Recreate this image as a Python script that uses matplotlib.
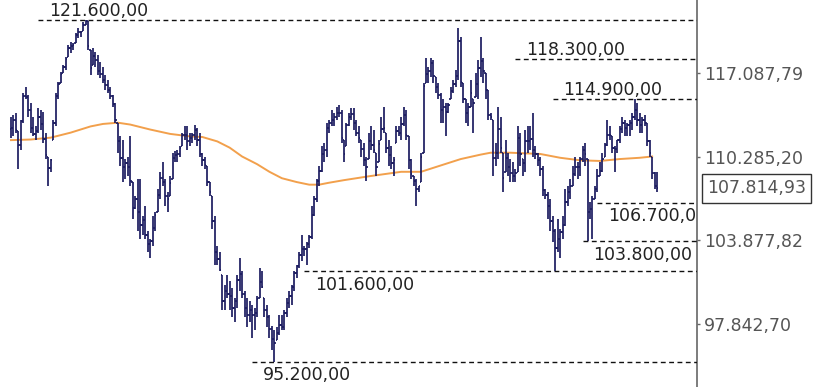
import numpy as np
import matplotlib
matplotlib.use("Agg")
import matplotlib.pyplot as plt
from matplotlib.collections import LineCollection
from matplotlib.ticker import FixedLocator, FuncFormatter, NullLocator

# daily bars, values in thousands
highs = [
    113.5, 113.65, 113.8, 112.3, 113.25, 115.45, 115.95, 115.3, 114.6, 113.5,
    112.7, 114.2, 114.05, 113.9, 112.2, 110.3, 110.1, 113.25, 115.45, 116.35,
    117.2, 117.8, 118.45, 119.5, 119.7, 119.6, 120.5, 120.9, 120.7, 121.4,
    121.6, 121.55, 119.05, 119.2, 118.9, 118.6, 118.0, 117.6, 116.9, 116.5,
    115.95, 115.3, 114.6, 113.0, 111.9, 111.65, 110.1, 110.3, 111.9, 108.3,
    107.25, 108.55, 108.55, 105.7, 106.45, 104.55, 104.0, 105.7, 106.0, 107.75,
    109.1, 109.85, 108.55, 107.55, 108.75, 110.6, 110.7, 110.85, 111.1, 112.2,
    112.7, 112.7, 112.2, 112.2, 112.85, 112.6, 112.2, 110.6, 110.3, 109.55,
    108.3, 107.25, 105.7, 103.45, 103.05, 101.35, 100.6, 101.35, 100.9, 100.4,
    99.7, 101.35, 102.55, 101.6, 100.2, 99.7, 99.5, 99.2, 99.0, 99.85,
    101.85, 101.6, 99.7, 99.2, 98.45, 97.7, 97.4, 97.6, 98.45, 98.45,
    98.8, 99.7, 100.2, 100.6, 101.6, 102.05, 103.05, 104.25, 103.45, 103.75,
    104.25, 106.45, 107.25, 108.55, 109.55, 111.1, 111.4, 113.0, 113.25, 114.05,
    113.8, 114.3, 114.45, 114.05, 111.65, 113.0, 113.8, 114.2, 114.2, 113.25,
    112.7, 111.65, 111.4, 110.3, 112.2, 112.7, 112.45, 110.6, 111.65, 113.5,
    114.3, 112.2, 111.65, 111.1, 110.3, 112.7, 112.7, 113.5, 114.3, 114.05,
    111.9, 110.1, 108.75, 108.55, 108.0, 110.6, 116.25, 118.35, 117.6, 118.35,
    118.2, 116.75, 116.25, 115.45, 114.9, 114.6, 114.6, 115.95, 116.5, 117.35,
    120.9, 120.15, 116.25, 114.9, 114.6, 116.5, 114.9, 117.1, 118.2, 120.15,
    118.35, 117.1, 115.7, 113.8, 113.25, 111.4, 114.3, 113.5, 110.6, 111.65,
    110.6, 110.1, 109.85, 109.3, 112.7, 112.2, 110.1, 112.45, 112.7, 112.7,
    113.8, 111.1, 110.6, 110.3, 109.55, 107.75, 107.55, 107.0, 105.7, 104.75,
    105.5, 104.75, 105.7, 107.75, 108.0, 108.55, 109.55, 110.3, 109.85, 110.3,
    111.1, 111.4, 110.1, 106.8, 107.25, 108.0, 109.3, 109.85, 110.6, 111.4,
    113.25, 112.7, 111.9, 111.1, 111.65, 112.7, 113.5, 113.25, 113.0, 113.25,
    113.8, 114.9, 114.6, 113.8, 113.5, 113.65, 113.0, 111.65, 110.3, 109.1,
    109.1,
]
lows = [
    111.8, 111.9, 112.2, 109.3, 110.85, 113.0, 114.9, 113.5, 112.2, 111.9,
    111.65, 112.2, 112.45, 111.4, 110.1, 108.0, 109.1, 111.65, 112.7, 114.9,
    116.25, 117.1, 117.35, 118.45, 118.8, 119.05, 119.6, 120.1, 120.15, 120.7,
    121.2, 119.05, 116.9, 117.8, 117.6, 116.9, 116.65, 116.25, 115.7, 115.45,
    114.9, 114.3, 113.0, 110.6, 109.55, 108.3, 108.55, 108.75, 108.0, 105.5,
    106.25, 104.55, 104.0, 104.25, 104.0, 103.05, 102.55, 103.45, 104.55, 106.0,
    107.0, 108.0, 106.45, 106.0, 107.25, 108.55, 109.85, 109.85, 110.3, 111.1,
    111.65, 110.85, 111.1, 111.4, 111.65, 111.1, 110.3, 109.55, 109.3, 108.0,
    107.25, 104.75, 102.05, 102.05, 101.6, 98.8, 98.8, 99.7, 98.8, 98.3,
    98.0, 99.0, 100.2, 99.7, 98.3, 97.6, 98.0, 96.9, 97.4, 98.3,
    99.7, 100.4, 98.3, 97.6, 96.9, 96.05, 95.2, 96.7, 97.1, 97.4,
    97.4, 98.3, 99.0, 99.2, 100.2, 101.15, 101.85, 102.35, 102.75, 102.05,
    103.3, 104.0, 105.7, 106.8, 108.0, 109.1, 109.85, 110.3, 112.2, 112.7,
    112.7, 113.25, 113.5, 111.4, 109.85, 111.1, 112.7, 113.25, 112.45, 111.9,
    111.4, 110.3, 109.55, 108.4, 110.1, 110.85, 110.6, 108.75, 109.85, 111.65,
    112.2, 110.6, 109.55, 109.3, 108.75, 111.4, 111.9, 111.65, 112.7, 111.65,
    109.3, 108.55, 108.0, 106.45, 107.55, 108.3, 110.6, 116.25, 116.25, 116.75,
    116.25, 115.45, 114.9, 113.0, 113.0, 111.9, 113.8, 114.9, 115.45, 115.95,
    116.5, 115.95, 114.6, 113.0, 112.7, 114.3, 112.2, 115.1, 114.9, 116.75,
    116.25, 114.9, 113.25, 113.25, 108.75, 109.55, 110.1, 110.6, 107.55, 109.1,
    108.75, 108.3, 108.3, 108.3, 109.1, 109.55, 108.75, 109.1, 110.6, 110.85,
    110.3, 110.1, 109.55, 108.75, 107.25, 107.0, 105.5, 104.55, 103.75, 101.6,
    103.05, 102.55, 104.0, 104.95, 106.45, 107.0, 108.0, 108.75, 108.55, 108.75,
    109.85, 109.55, 103.8, 105.5, 104.0, 107.0, 107.55, 108.75, 109.1, 110.3,
    111.1, 111.65, 110.6, 109.1, 110.6, 111.4, 112.2, 111.9, 111.9, 111.9,
    112.45, 113.25, 112.7, 112.2, 112.2, 112.7, 111.1, 110.3, 108.55, 107.75,
    107.55,
]
closes = [
    112.6, 113.2, 112.4, 111.2, 113.1, 115.2, 115.1, 114.0, 112.6, 112.1,
    112.3, 113.5, 112.9, 111.7, 110.4, 109.4, 110.0, 113.0, 115.2, 116.2,
    117.0, 117.6, 118.3, 119.2, 119.4, 119.5, 120.3, 120.6, 120.6, 121.2,
    121.5, 119.4, 117.5, 118.5, 118.2, 117.3, 117.0, 116.5, 116.1, 115.7,
    115.2, 114.5, 113.2, 111.5, 110.2, 109.5, 109.8, 109.5, 108.4, 106.3,
    107.0, 106.0, 105.0, 105.4, 104.3, 103.6, 103.8, 104.8, 105.8, 107.3,
    108.6, 108.3, 107.2, 107.0, 108.2, 110.2, 110.4, 110.5, 111.0, 112.0,
    112.0, 111.5, 111.8, 112.0, 112.4, 111.6, 110.5, 110.0, 109.6, 108.3,
    107.5, 105.3, 103.0, 102.5, 101.7, 99.5, 100.2, 100.0, 99.8, 99.0,
    99.5, 101.0, 101.4, 100.0, 99.0, 98.5, 98.8, 98.5, 98.6, 99.6,
    100.8, 100.5, 98.8, 98.3, 97.5, 96.8, 96.5, 97.2, 97.8, 97.6,
    98.6, 99.3, 99.8, 100.5, 101.5, 102.0, 102.8, 103.2, 103.2, 103.6,
    104.1, 105.8, 107.0, 108.4, 109.2, 110.5, 110.8, 112.6, 113.0, 113.2,
    113.5, 113.8, 113.8, 111.8, 110.5, 112.8, 113.5, 113.7, 113.0, 112.2,
    111.8, 110.9, 110.0, 109.5, 111.5, 111.2, 110.8, 109.5, 111.3, 112.5,
    112.6, 111.0, 110.4, 109.8, 110.0, 112.3, 112.2, 112.9, 113.6, 112.0,
    110.0, 108.9, 108.4, 107.8, 108.0, 110.3, 116.0, 117.0, 117.3, 117.9,
    116.8, 115.9, 115.3, 114.0, 114.3, 113.9, 114.4, 115.6, 116.2, 116.8,
    119.8, 116.3, 114.9, 113.8, 114.3, 115.4, 114.6, 116.2, 117.5, 118.1,
    117.3, 115.7, 113.6, 113.5, 110.2, 110.6, 112.5, 111.0, 108.6, 110.2,
    109.5, 109.0, 108.8, 109.0, 111.8, 110.5, 109.8, 111.5, 111.5, 111.7,
    110.8, 110.5, 110.0, 109.3, 107.7, 107.3, 106.5, 105.3, 104.6, 103.3,
    104.0, 104.5, 105.0, 106.8, 107.5, 108.0, 108.9, 109.5, 109.5, 110.1,
    110.8, 110.5, 106.0, 106.2, 107.0, 107.8, 108.8, 109.2, 110.1, 111.2,
    112.0, 112.0, 111.0, 110.9, 111.6, 112.5, 113.0, 112.6, 112.8, 113.0,
    113.5, 114.0, 113.2, 112.8, 113.2, 113.0, 111.5, 110.6, 109.0, 108.0,
    107.81493,
]
first_open = 112.5

# moving average, read at some bar indices
ma_idx = [0, 8, 16, 24, 32, 37, 43, 48, 56, 64, 72, 77, 83, 88, 93, 99, 104,
          109, 115, 120, 124, 128, 134, 144, 157, 165, 173, 181, 189, 193, 201,
          213, 221, 229, 237, 245, 253, 258]
ma_vals = [111.6, 111.65, 111.8, 112.2, 112.7, 112.9, 113.0, 112.85, 112.45, 112.1,
           111.9, 111.85, 111.5, 111.0, 110.3, 109.7, 109.1, 108.6, 108.3, 108.1,
           108.1, 108.25, 108.45, 108.75, 109.1, 109.1, 109.6, 110.1, 110.45, 110.6,
           110.6, 110.5, 110.2, 110.0, 109.95, 110.1, 110.2, 110.3]

levels = [121600, 118300, 114900, 106700, 103800, 101600, 95200]
level_start = [11, 203, 218, 236, 230, 118, 97]
level_above = [True, True, True, False, False, False, False]

ytick_vals = [97842.70, 103877.82, 110285.20, 117087.79]
last_price = 107814.93

BAR_C = "#1c1c60"
MA_C = "#f2a04c"
TXT_C = "#222222"
AX_C = "#666666"


def eu(v):
    s = f"{v:,.2f}"
    return s.replace(",", "X").replace(".", ",").replace("X", ".")


hi = np.array(highs) * 1000
lo = np.array(lows) * 1000
cl = np.array(closes) * 1000
cl[-1] = last_price
op = np.concatenate([[first_open * 1000], cl[:-1]])
op = np.clip(op, lo, hi)
n = len(hi)
w = 0.55

segs = []
for i in range(n):
    segs.append([(i, lo[i]), (i, hi[i])])
    segs.append([(i - w, op[i]), (i, op[i])])
    segs.append([(i, cl[i]), (i + w, cl[i])])

fig = plt.figure(figsize=(8.25, 3.87), dpi=100)
ax = fig.add_axes([0, 0, 697 / 825, 1])
ax.set_yscale("log")
ax.set_xlim(-11 / 2.485, 686 / 2.485)
ax.set_ylim(93530, 123370)

ax.plot(ma_idx, np.array(ma_vals) * 1000, color=MA_C, lw=1.4, zorder=2,
        solid_joinstyle="round")
ax.add_collection(LineCollection(segs, colors=BAR_C, linewidths=1.25, zorder=3))

for lv, st, above in zip(levels, level_start, level_above):
    ax.plot([st, 300], [lv, lv], color="#111111", lw=1.0,
            linestyle=(0, (3.5, 2.5)), zorder=4)
    dy = 6.5 if above else -9.5
    ax.annotate(eu(lv), xy=(st, lv), xytext=(7.5, dy), textcoords="offset points",
                ha="left", va="center", fontsize=12.5, color=TXT_C,
                clip_on=True, zorder=5)

for s in ["left", "top", "bottom"]:
    ax.spines[s].set_visible(False)
ax.spines["right"].set_color(AX_C)
ax.spines["right"].set_linewidth(1.2)
ax.set_xticks([])
ax.yaxis.tick_right()
ax.yaxis.set_major_locator(FixedLocator(ytick_vals))
ax.yaxis.set_minor_locator(NullLocator())
ax.yaxis.set_major_formatter(FuncFormatter(lambda v, p: eu(v)))
ax.tick_params(axis="y", which="major", direction="out", length=2.5, width=1,
               color=AX_C, labelcolor="#555555", labelsize=12.5, pad=2.5)

ax.annotate(eu(last_price), xy=(1, last_price), xycoords=ax.get_yaxis_transform(),
            xytext=(7, 0), textcoords="offset points", ha="left", va="center",
            fontsize=12.5, color="#555555", annotation_clip=False,
            bbox=dict(boxstyle="square,pad=0.3", fc="white", ec="#333333", lw=1))

fig.savefig("out.png", dpi=100)
plt.close(fig)
